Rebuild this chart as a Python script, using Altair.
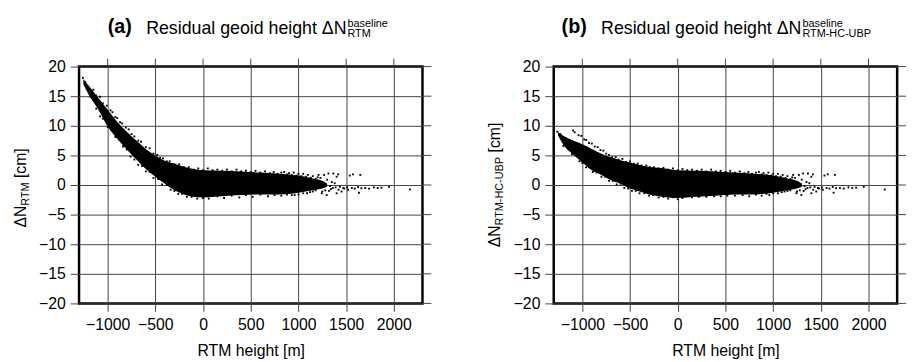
import altair as alt
import pandas as pd

FONT = "Liberation Sans"
W, H = 348, 240

x_ticks = [-1000, -500, 0, 500, 1000, 1500, 2000]
y_ticks = [-20, -15, -10, -5, 0, 5, 10, 15, 20]

# dense core of the point cloud (upper / lower envelope)
core_x = [-1255, -1200, -1100, -1000, -900, -800, -700, -600, -500, -400, -300,
          -200, -100, 0, 200, 400, 600, 800, 1000, 1150, 1250, 1300]
core_hi_a = [17.9, 16.8, 14.8, 12.7, 10.7, 9.0, 7.5, 6.1, 5.0, 4.1, 3.6,
             3.1, 2.7, 2.5, 2.4, 2.3, 2.1, 1.9, 1.6, 1.1, 0.7, 0.2]
core_lo_a = [17.0, 15.3, 12.8, 9.9, 7.8, 6.0, 4.3, 2.7, 1.4, 0.2, -0.9,
             -1.6, -2.0, -2.1, -1.9, -1.7, -1.6, -1.6, -1.3, -0.9, -0.6, -0.3]
core_hi_b = [8.9, 8.3, 7.5, 6.9, 6.1, 5.3, 4.7, 4.2, 3.8, 3.4, 3.1,
             2.9, 2.7, 2.5, 2.4, 2.3, 2.1, 1.9, 1.6, 1.1, 0.7, 0.2]
core_lo_b = [8.4, 6.8, 5.2, 3.8, 2.5, 1.7, 0.8, 0.2, -0.6, -1.1, -1.6,
             -1.9, -2.1, -2.2, -2.0, -1.8, -1.6, -1.6, -1.3, -0.9, -0.6, -0.3]

# scattered points at the edges of the cloud
edge_x_a = [-1260, -1235, -1150, -1120, -1080, -1050, -1010, -970, -950, -920, -900, -870,
            -850, -810, -780, -750, -720, -680, -650, -600, -560, -520, -480, -450, -420,
            -380, -350, -300, -250, -200, -150, -100, -50, 0, 50, 100, 150, 200, 250, 300,
            350, 400, 450, 500, 550, 600, 650, 700, 740, 780, 820, 850, 880, 900, 930, 950,
            980, 1000, 1030, 1050, 1080, 1100, 1130, 1150, 1180, 1200,
            -1180, -1120, -1080, -1050, -1000, -960, -920, -880, -840, -800, -760, -720,
            -680, -640, -600, -560, -520, -470, -430, -380, -340, -300, -260, -220, -170,
            -120, -60, 0, 60, 150, 220, 300, 380, 450, 520, 600, 680, 750, 820, 880, 930,
            960, 1000, 1050, 1090, 1120, 1150, 1180]
edge_y_a = [18.1, 17.4, 16.1, 15.1, 14.9, 13.8, 13.4, 12.6, 12.3, 11.5, 11.3, 10.6,
            10.4, 9.7, 9.4, 8.6, 8.2, 7.5, 7.3, 6.4, 6.2, 5.3, 5.1, 4.6, 4.5,
            4.0, 4.0, 3.5, 3.5, 3.0, 3.0, 2.6, 2.8, 2.5, 2.8, 2.5, 2.6, 2.4, 2.6, 2.3,
            2.6, 2.3, 2.4, 2.2, 2.4, 2.1, 2.3, 2.0, 2.2, 1.9, 2.1, 2.2, 1.8, 2.0, 1.7, 2.1,
            1.6, 1.9, 1.5, 1.9, 1.4, 1.7, 1.2, 1.5, 1.0, 1.3,
            14.9, 12.9, 11.6, 11.2, 9.8, 9.3, 8.1, 7.7, 6.5, 6.0, 4.8, 4.3,
            3.4, 3.2, 2.3, 2.2, 1.2, 1.0, 0.1, 0.0, -0.8, -1.0, -1.5, -1.5, -2.0,
            -2.0, -2.3, -2.2, -2.3, -1.9, -2.2, -1.8, -2.1, -1.7, -2.0, -1.6, -1.9, -1.7, -1.8,
            -1.6, -1.7, -1.7, -1.6, -1.4, -1.4, -1.2, -1.1, -0.9]
edge_x_b = [-1262, -1230, -1097, -1080, -1040, -1011, -980, -960, -930, -900, -870, -840,
            -810, -780, -750, -720, -690, -650, -620, -580, -540, -500, -460, -420, -380,
            -330, -290, -250, -200, -150, -100, -50, 0, 50, 100, 150, 200, 250, 300,
            350, 400, 450, 500, 550, 600, 650, 700, 740, 780, 820, 850, 880, 900, 930, 950,
            980, 1000, 1030, 1050, 1080, 1100, 1130, 1150, 1180, 1200,
            -1200, -1150, -1110, -1070, -1030, -1000, -960, -930, -890, -850, -800, -760,
            -720, -680, -640, -600, -560, -520, -480, -440, -400, -350, -300, -260, -200,
            -150, -100, -50, 0, 50, 150, 220, 300, 380, 450, 520, 600, 680, 750, 820, 880,
            930, 960, 1000, 1050, 1090, 1120, 1150, 1180]
edge_y_b = [9.0, 8.6, 9.2, 8.9, 8.4, 8.3, 7.7, 7.6, 7.1, 7.0, 6.5, 6.4,
            5.9, 5.8, 5.3, 5.1, 4.7, 4.7, 4.3, 4.4, 3.9, 4.0, 3.6, 3.6, 3.3,
            3.3, 3.0, 3.0, 2.8, 2.9, 2.6, 2.8, 2.5, 2.7, 2.5, 2.6, 2.4, 2.6, 2.3,
            2.6, 2.3, 2.4, 2.2, 2.4, 2.1, 2.3, 2.0, 2.2, 1.9, 2.1, 2.2, 1.8, 2.0, 1.7, 2.1,
            1.6, 1.9, 1.5, 1.9, 1.4, 1.7, 1.2, 1.5, 1.0, 1.3,
            6.6, 6.1, 5.2, 5.0, 4.0, 3.7, 3.0, 3.0, 2.2, 2.1, 1.4, 1.4,
            0.7, 0.7, 0.1, 0.2, -0.5, -0.6, -1.0, -1.0, -1.4, -1.4, -1.8, -1.7, -2.1,
            -2.0, -2.3, -2.1, -2.4, -2.2, -2.1, -2.0, -2.0, -1.9, -1.9, -1.8, -1.8, -1.7, -1.9,
            -1.6, -1.8, -1.5, -1.7, -1.4, -1.4, -1.2, -1.1, -1.0, -0.9]

# sparse tail at large RTM heights (same in both panels)
tail_x = [1210, 1269, 1314, 1365, 1417, 1400, 1538, 1572, 1648, 1245, 1296, 1400, 1452,
          1521, 1634, 1434, 1470, 1510, 1560, 1590, 1625, 1660, 1700, 1740, 1790, 1830,
          1870, 1950, 2170, 1330, 1360, 1380, 1350, 1300, 1280, 1320, 1230, 1250,
          1340, 1390, 1420, 1480, 1260, 1290]
tail_y = [1.7, 1.7, 1.95, 1.95, 1.8, 1.4, 1.6, 1.8, 1.7, -1.4, -1.7, -1.4, -1.1,
          -0.8, -1.3, -0.3, -0.5, -0.4, -0.5, -0.6, -0.35, -0.55, -0.5, -0.6, -0.4, -0.5,
          -0.45, -0.3, -0.75, -0.2, -0.5, 0.3, 0.5, 0.9, -0.9, -1.0, 1.2, -1.1,
          -0.7, -0.4, -0.8, -0.6, 0.4, 0.1]

x_title = "RTM height [m]"
panels = [
    dict(tag="(a)", main="Residual geoid height \u0394N", sup="baseline", sub="RTM",
         hi=core_hi_a, lo=core_lo_a, ex=edge_x_a, ey=edge_y_a,
         tag_x=29, main_r=271, yt=[163, 141, 113]),
    dict(tag="(b)", main="Residual geoid height \u0394N", sup="baseline", sub="RTM-HC-UBP",
         hi=core_hi_b, lo=core_lo_b, ex=edge_x_b, ey=edge_y_b,
         tag_x=8, main_r=251, yt=[183, 161, 87]),
]

xs = alt.Scale(domain=[-1300, 2300], nice=False, zero=False)
ys = alt.Scale(domain=[-20, 20], nice=False, zero=False)
GRID = "#444444"

XAXIS = alt.Axis(values=x_ticks, format="d", grid=True, gridColor=GRID,
                 gridWidth=1, tickColor=GRID, tickSize=8, tickWidth=1,
                 domain=False, labelFont=FONT, labelFontSize=16,
                 labelColor="black", labelPadding=5, labelOverlap=False,
                 titleFont=FONT, titleFontSize=16,
                 titleFontWeight="normal", titleColor="black",
                 titlePadding=11, labelFlush=False)
YAXIS = alt.Axis(values=y_ticks, format="d", grid=True, gridColor=GRID,
                 gridWidth=1, tickColor=GRID, tickSize=9, tickWidth=1,
                 domain=False, labelFont=FONT, labelFontSize=16,
                 labelColor="black", labelPadding=5, labelOverlap=False,
                 labelFlush=False)


def txt(s, x, y, size, align="left", weight="normal", angle=0):
    return alt.Chart(alt.Data(values=[{"k": 1}])).mark_text(
        font=FONT, fontSize=size, fontWeight=weight, align=align,
        baseline="alphabetic", angle=angle, color="black"
    ).encode(x=alt.value(x), y=alt.value(y), text=alt.value(s))


def panel(p):
    core = pd.DataFrame({"x": core_x, "hi": p["hi"], "lo": p["lo"]})
    pts = pd.DataFrame({"x": list(p["ex"]) + tail_x, "y": list(p["ey"]) + tail_y})
    xt = pd.DataFrame({"t": x_ticks})
    yt = pd.DataFrame({"t": y_ticks})

    area = alt.Chart(core).mark_area(color="black", interpolate="monotone").encode(
        x=alt.X("x:Q", scale=xs, title=x_title, axis=XAXIS),
        y=alt.Y("hi:Q", scale=ys, title=None, axis=YAXIS),
        y2="lo:Q",
    )
    dots = alt.Chart(pts).mark_square(size=3.5, color="black", opacity=1).encode(
        x=alt.X("x:Q", scale=xs, title=x_title, axis=XAXIS),
        y=alt.Y("y:Q", scale=ys, title=None, axis=YAXIS))
    top_ticks = alt.Chart(xt).mark_rule(color=GRID, strokeWidth=1).encode(
        x=alt.X("t:Q", scale=xs, title=x_title, axis=XAXIS),
        y=alt.value(-8), y2=alt.value(0))
    right_ticks = alt.Chart(yt).mark_rule(color=GRID, strokeWidth=1).encode(
        y=alt.Y("t:Q", scale=ys, title=None, axis=YAXIS),
        x=alt.value(W), x2=alt.value(W + 9))

    r = p["main_r"]
    layers = [
        area, dots, top_ticks, right_ticks,
        txt(p["tag"], p["tag_x"], -34, 20, weight="bold"),
        txt(p["main"], r, -33, 18, align="right"),
        txt(p["sup"], r + 1, -40.5, 11),
        txt(p["sub"], r + 1, -30, 11),
        txt("\u0394N", -54, p["yt"][0], 16, angle=270),
        txt(p["sub"], -51, p["yt"][1], 11, angle=270),
        txt("[cm]", -54, p["yt"][2], 16, angle=270),
    ]
    return alt.layer(*layers).properties(width=W, height=H)


chart = alt.hconcat(panel(panels[0]), panel(panels[1]), spacing=133, bounds="flush").properties(
    padding={"left": 3, "top": 5, "right": 0, "bottom": 0}
).configure_view(stroke="black", strokeWidth=2.5)

chart.save("out.html", embed_options={"renderer": "svg", "actions": False})
